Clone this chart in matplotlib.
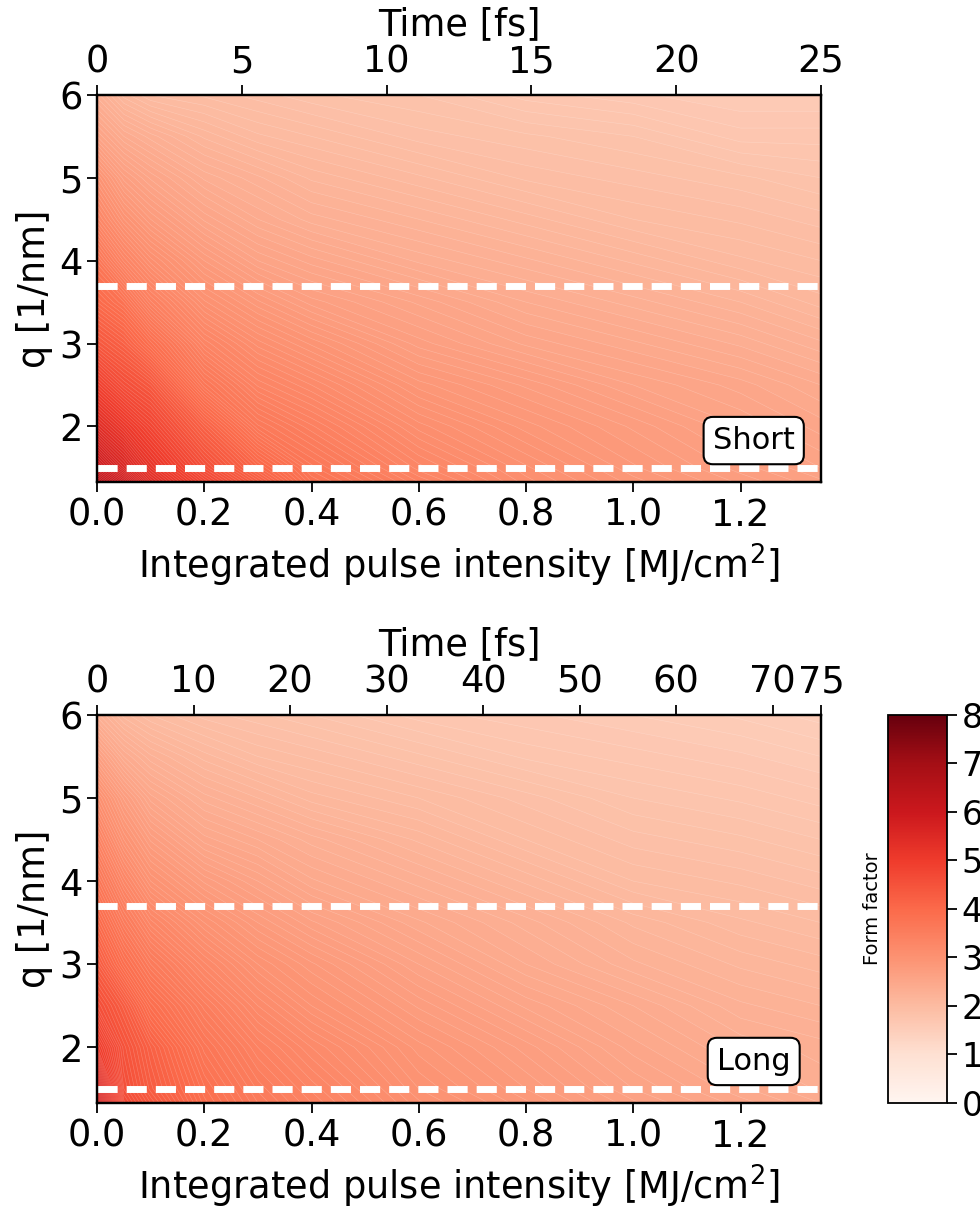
import numpy as np
import matplotlib
matplotlib.use('Agg')
import matplotlib.pyplot as plt
import matplotlib.colors as mcolors
import matplotlib.cm as cm

# grid
intensity = [0.0, 0.05, 0.1, 0.2, 0.3, 0.4, 0.6, 0.8, 1.0, 1.2, 1.35]   # MJ/cm^2
q = [1.33, 1.5, 2.0, 2.5, 3.0, 3.5, 4.0, 4.5, 5.0, 5.5, 6.0]            # 1/nm

# form factor, rows = q (bottom to top), cols = intensity
ff_short = [
    [6.3, 5.9, 5.4, 4.8, 4.3, 3.8, 3.4, 3.1, 2.9, 2.75, 2.65],
    [6.0, 5.6, 5.2, 4.6, 4.1, 3.7, 3.3, 3.05, 2.85, 2.7, 2.6],
    [5.4, 5.1, 4.8, 4.2, 3.65, 3.45, 3.1, 2.9, 2.75, 2.6, 2.5],
    [4.9, 4.6, 4.4, 3.7, 3.35, 3.2, 2.9, 2.75, 2.6, 2.5, 2.4],
    [4.4, 4.2, 3.9, 3.35, 3.1, 2.95, 2.7, 2.55, 2.45, 2.35, 2.25],
    [4.0, 3.8, 3.45, 3.05, 2.85, 2.7, 2.55, 2.4, 2.3, 2.2, 2.1],
    [3.7, 3.35, 3.1, 2.8, 2.6, 2.5, 2.35, 2.25, 2.15, 2.05, 2.0],
    [3.3, 3.0, 2.8, 2.55, 2.4, 2.3, 2.2, 2.1, 2.0, 1.95, 1.9],
    [3.0, 2.7, 2.55, 2.35, 2.25, 2.15, 2.05, 1.95, 1.9, 1.85, 1.8],
    [2.6, 2.4, 2.3, 2.15, 2.05, 2.0, 1.9, 1.85, 1.8, 1.7, 1.7],
    [2.3, 2.1, 2.0, 1.95, 1.9, 1.85, 1.8, 1.7, 1.65, 1.6, 1.6],
]
ff_long = [
    [5.8, 4.7, 4.4, 3.9, 3.6, 3.4, 3.05, 2.85, 2.65, 2.5, 2.4],
    [5.6, 4.6, 4.3, 3.85, 3.55, 3.35, 3.0, 2.8, 2.6, 2.45, 2.35],
    [5.0, 4.5, 4.2, 3.7, 3.4, 3.2, 2.9, 2.7, 2.5, 2.35, 2.3],
    [4.6, 4.3, 3.9, 3.5, 3.2, 3.0, 2.75, 2.55, 2.4, 2.25, 2.2],
    [4.3, 3.9, 3.6, 3.25, 3.0, 2.85, 2.6, 2.4, 2.25, 2.15, 2.1],
    [4.0, 3.6, 3.3, 3.0, 2.8, 2.65, 2.45, 2.3, 2.15, 2.05, 2.0],
    [3.7, 3.3, 3.0, 2.75, 2.6, 2.45, 2.3, 2.15, 2.0, 1.95, 1.9],
    [3.4, 3.0, 2.75, 2.5, 2.4, 2.3, 2.15, 2.0, 1.9, 1.85, 1.8],
    [3.1, 2.75, 2.5, 2.3, 2.2, 2.1, 2.0, 1.9, 1.8, 1.75, 1.7],
    [2.7, 2.4, 2.25, 2.1, 2.0, 1.95, 1.85, 1.75, 1.7, 1.65, 1.6],
    [2.3, 2.1, 2.0, 1.9, 1.85, 1.8, 1.7, 1.65, 1.6, 1.55, 1.5],
]

q_lines = [1.5, 3.7]
time_short = [0, 5, 10, 15, 20, 25]
time_long = [0, 10, 20, 30, 40, 50, 60, 70, 75]
pulse_names = ['Short', 'Long']

plt.rcParams['font.family'] = 'DejaVu Sans'
plt.rcParams['font.size'] = 26.5
plt.rcParams['axes.linewidth'] = 1.6

fig = plt.figure(figsize=(9.8, 12.11), dpi=100)
ax1 = fig.add_axes([0.099, 0.602, 0.7388, 0.3196])
ax2 = fig.add_axes([0.099, 0.0892, 0.7388, 0.3204])
cax = fig.add_axes([0.9061, 0.0892, 0.0602, 0.3204])

levels = np.linspace(0, 8, 201)
norm = mcolors.Normalize(vmin=0, vmax=8)
xmax = intensity[-1]

for ax, ff, ticks, name in zip([ax1, ax2], [ff_short, ff_long],
                               [time_short, time_long], pulse_names):
    ax.contourf(intensity, q, np.array(ff), levels=levels, cmap='Reds', norm=norm)
    # faint seams between the filled levels
    ax.contour(intensity, q, np.array(ff), levels=levels, colors='white',
               linewidths=0.4, alpha=0.25)
    for ql in q_lines:
        ax.axhline(ql, color='white', lw=5, linestyle=(0, (2.9, 1.3)))
    ax.set_xlim(0, xmax)
    ax.set_ylim(q[0], q[-1])
    ax.set_xticks([0.0, 0.2, 0.4, 0.6, 0.8, 1.0, 1.2])
    ax.set_xticklabels(['0.0', '0.2', '0.4', '0.6', '0.8', '1.0', '1.2'])
    ax.set_yticks([2, 3, 4, 5, 6])
    ax.tick_params(direction='out', length=7, width=1.3)
    ax.set_xlabel('Integrated pulse intensity [MJ/cm$^2$]', labelpad=6)
    ax.set_ylabel('q [1/nm]')
    ax.text(0.907, 0.107, name, transform=ax.transAxes, ha='center', va='center',
            fontsize=22,
            bbox=dict(boxstyle='round,pad=0.3', fc='white', ec='black', lw=1.5))
    top = ax.twiny()
    top.set_xlim(0, ticks[-1])
    top.set_xticks(ticks)
    top.tick_params(direction='out', length=7, width=1.3)
    top.set_xlabel('Time [fs]', labelpad=6)

cb = fig.colorbar(cm.ScalarMappable(norm=norm, cmap='Reds'), cax=cax)
cb.set_ticks(range(0, 9))
cb.ax.tick_params(length=7, width=1.3, labelsize=24)
cb.outline.set_linewidth(1.3)
cb.set_label('Form factor', fontsize=14)
cb.ax.yaxis.set_label_position('left')

fig.savefig('out.png', dpi=100)
